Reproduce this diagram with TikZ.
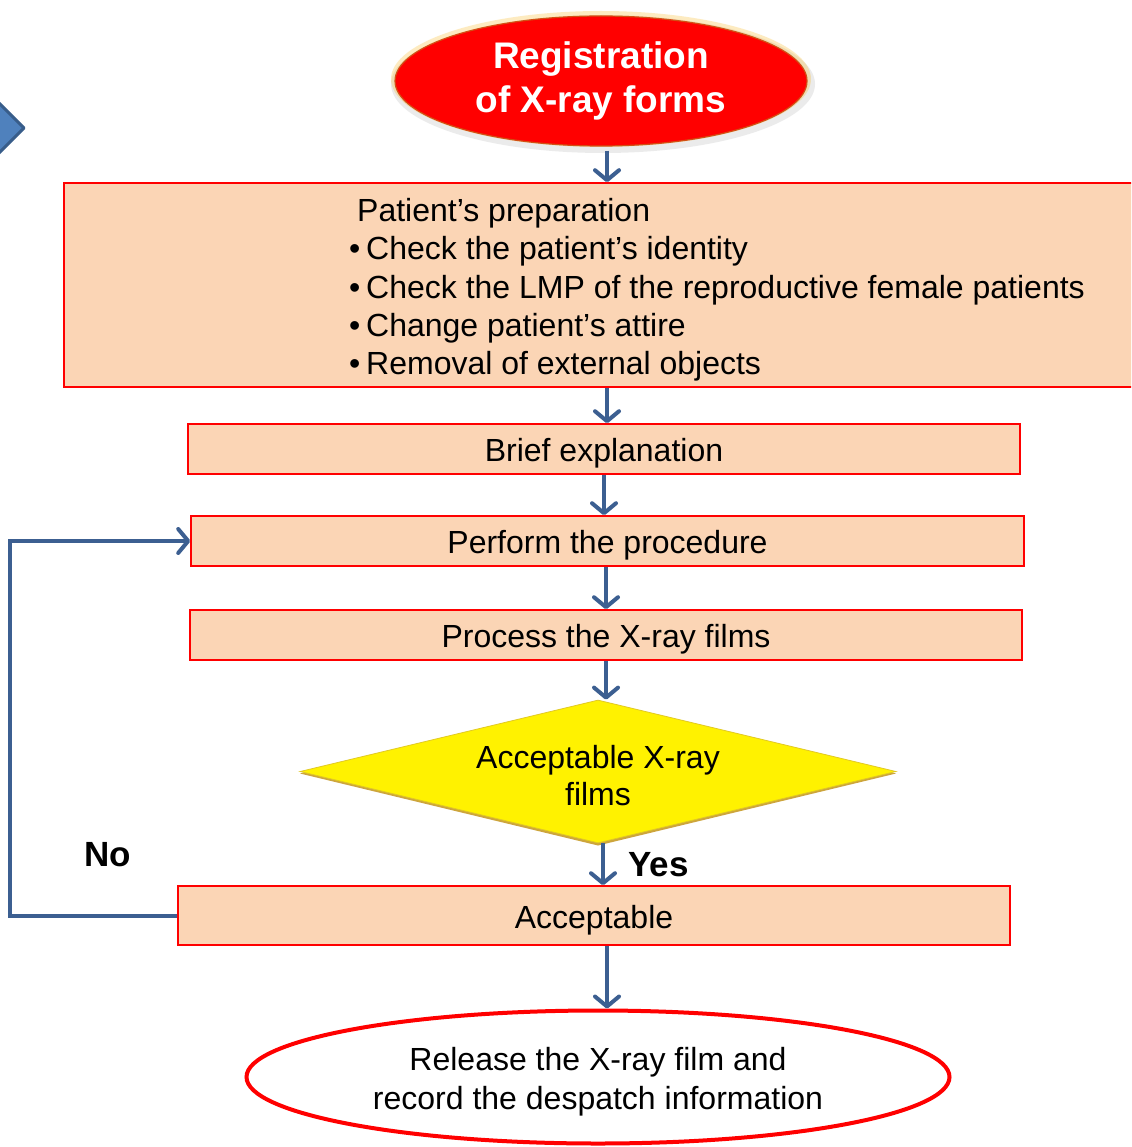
\documentclass[tikz,border=0pt]{standalone}
\usepackage{fontspec}
\setmainfont{Liberation Sans}
\usetikzlibrary{arrows.meta,shapes.geometric}
\definecolor{flowblue}{RGB}{60,95,145}
\definecolor{peach}{RGB}{251,213,181}
\definecolor{chevfill}{RGB}{79,129,189}
\definecolor{chevdraw}{RGB}{56,93,138}
\definecolor{goldrim}{RGB}{205,165,60}
\definecolor{redrim}{RGB}{210,80,20}
\begin{document}
\begin{tikzpicture}[x=1pt,y=-1pt,
  flow/.style={draw=flowblue, line width=4pt, -{Straight Barb[length=10pt,width=24pt,round]}},
  stepbox/.style={draw=red, line width=1.6pt, fill=peach, inner sep=0pt,
    minimum width=832pt, minimum height=50pt, text height=25pt, text depth=0pt,
    font=\fontsize{32}{38}\selectfont},
  txt/.style={inner sep=0pt, font=\fontsize{32}{38.3}\selectfont}]
\clip (0,0) rectangle (1131,1147);
\fill[white] (0,0) rectangle (1131,1147);

% partial shape at the left edge
\filldraw[fill=chevfill, draw=chevdraw, line width=3pt, line join=round]
  (-40,64) -- (24,128) -- (-40,192) -- cycle;

% top ellipse with glow
\fill[black!25, opacity=0.3] (603,84) ellipse [x radius=212, y radius=69];
\fill[yellow!40!orange, opacity=0.25] (601,79) ellipse [x radius=210, y radius=68];
\node[ellipse, fill=red, draw=redrim, line width=1.2pt, minimum width=412pt, minimum height=130pt,
  inner sep=0pt, text=white, align=center, font=\bfseries\fontsize{37}{44}\selectfont]
  (reg) at (601,81) {Registration\\of X-ray forms};

% boxes
\node[stepbox, minimum width=1086pt, minimum height=204pt, text height=0pt] (prep) at (607,285) {};
\node[txt, align=left, anchor=west] (preptext) at (349,290)
  {\hspace{8pt}Patient’s preparation\\
   \makebox[17pt][l]{•}Check the patient’s identity\\
   \makebox[17pt][l]{•}Check the LMP of the reproductive female patients\\
   \makebox[17pt][l]{•}Change patient’s attire\\
   \makebox[17pt][l]{•}Removal of external objects};
\node[stepbox] (brief) at (604,449) {Brief explanation};
\node[stepbox, minimum width=833pt] (perform) at (607.5,541) {Perform the procedure};
\node[stepbox] (process) at (606,635) {Process the X-ray films};

% decision diamond
\fill[goldrim] (300,773.5) -- (598,701.5) -- (896,773.5) -- (598,845.5) -- cycle;
\node[diamond, aspect=4.17, fill=yellow, draw=goldrim!60!yellow, line width=0.8pt, inner sep=0pt,
  minimum width=596pt, minimum height=143pt] (dec) at (598,771.5) {};
\node[inner sep=0pt, align=center, font=\fontsize{32}{37}\selectfont]
  (dectext) at (598,776) {Acceptable X-ray\\films};

\node[stepbox, minimum height=59pt] (acc) at (594,915.5) {Acceptable};

% final ellipse
\node[ellipse, draw=red, fill=white, line width=4pt, minimum width=703pt, minimum height=133pt,
  inner sep=0pt] (release) at (598,1077) {};
\node[inner sep=0pt, align=center, font=\fontsize{32}{39}\selectfont]
  (releasetext) at (598,1082) {Release the X-ray film and\\record the despatch information};

% connectors
\coordinate (accout) at (607,946);
\coordinate (loopcorner) at (10,915.5);
\draw[flow] (prep.north |- reg.south) ++(0,4) -- (prep.north);
\draw[flow] (prep.south) -- (prep.south |- brief.north);
\draw[flow] (brief.south) -- (brief.south |- perform.north);
\draw[flow] (process.north |- perform.south) -- (process.north);
\draw[flow] (process.south) -- (process.south |- dec.north);
\draw[flow] (dec.south) ++(5,0) coordinate (yesfrom) -- (yesfrom |- acc.north);
\draw[flow] (accout) -- (accout |- release.north);
\draw[flow] (acc.west) -- (loopcorner) |- (perform.west);

% labels
\node[inner sep=0pt, font=\bfseries\fontsize{35}{40}\selectfont] (nolabel) at (108,855) {No};
\node[inner sep=0pt, anchor=west, font=\bfseries\fontsize{35}{40}\selectfont] (yeslabel) at (628,865) {Yes};
\end{tikzpicture}
\end{document}
